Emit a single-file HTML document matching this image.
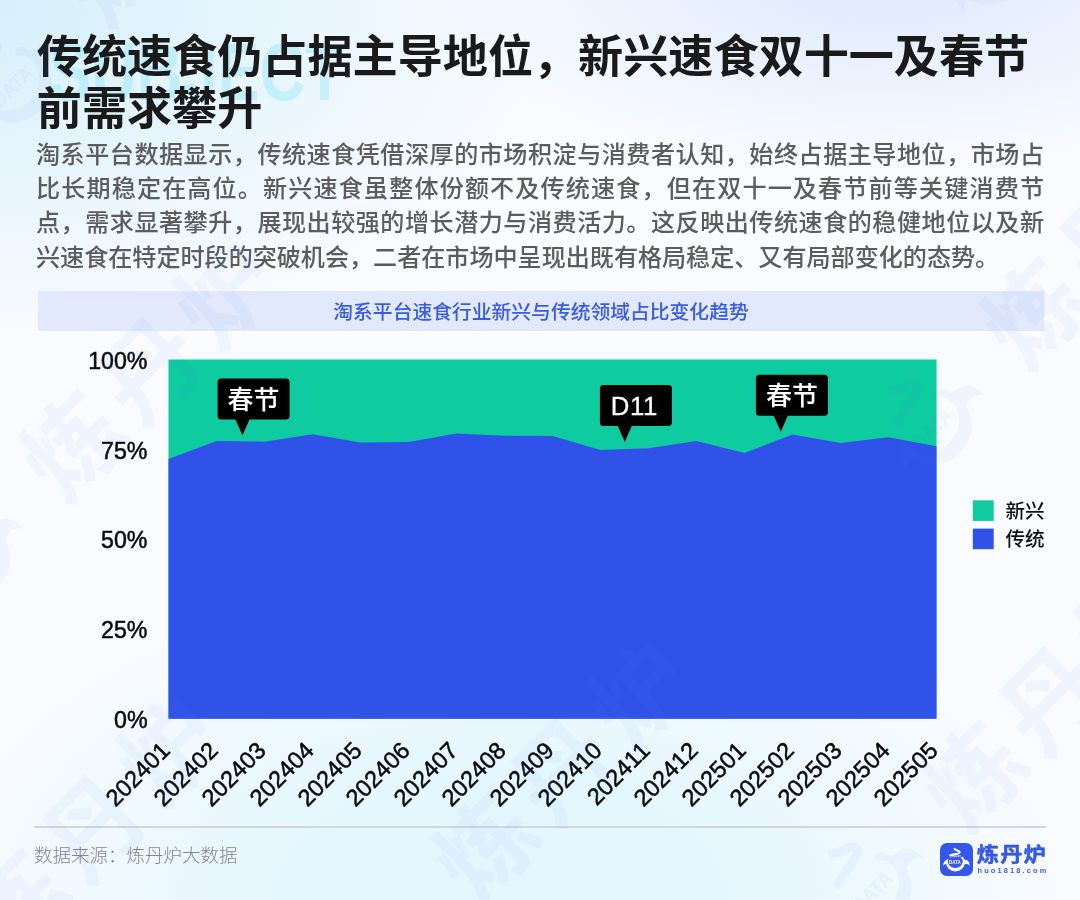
<!DOCTYPE html>
<html lang="zh-CN">
<head>
<meta charset="utf-8">
<title>传统速食仍占据主导地位</title>
<style>
html,body{margin:0;padding:0;}
body{width:1080px;height:900px;position:relative;overflow:hidden;
font-family:"Liberation Sans","Noto Sans CJK SC",sans-serif;
background:#f8fafe;}
.bg{position:absolute;left:0;top:0;width:1080px;height:900px;
background:
radial-gradient(ellipse 560px 330px at 0px 10px, rgba(214,240,251,1), rgba(214,240,251,0) 100%),
radial-gradient(ellipse 460px 190px at 880px -20px, rgba(222,233,253,1), rgba(222,233,253,0) 100%),
radial-gradient(ellipse 580px 330px at 500px 900px, rgba(228,247,254,1) 0%, rgba(228,247,254,1) 35%, rgba(228,247,254,0) 100%),
#f9fbff;}
.subject{position:absolute;left:48.5px;top:27.2px;font-size:81px;line-height:90px;font-weight:bold;letter-spacing:0;color:rgba(150,230,250,.45);font-family:"Liberation Sans",sans-serif;transform:scaleX(0.78);transform-origin:0 0;white-space:nowrap;}
h1{position:absolute;left:36.8px;top:32px;margin:0;width:1040px;white-space:nowrap;font-family:"Liberation Sans","Noto Sans CJK SC",sans-serif;font-weight:700;font-size:45.12px;line-height:51.5px;color:#1a1a1a;letter-spacing:0;}
p.desc{position:absolute;left:36px;top:137.5px;margin:0;width:1008px;font-size:24.08px;line-height:34.4px;color:#5c5c5c;text-align:justify;font-weight:500;font-family:"Liberation Sans","Noto Sans CJK SC",sans-serif;}
.bar{position:absolute;left:38px;top:290.5px;width:1006px;height:40px;background:#e2e9fc;text-align:center;line-height:43.5px;font-size:19.8px;overflow:hidden;color:#3a5be6;font-weight:500;font-family:"Liberation Sans","Noto Sans CJK SC",sans-serif;}
p.desc span{display:block;white-space:nowrap;text-align:justify;text-align-last:justify;}
p.desc span.last{text-align-last:left;}
svg.chart{position:absolute;left:0;top:0;}
svg.chart text{font-family:"Liberation Sans","Noto Sans CJK SC",sans-serif;}
svg.chart text.cj{font-family:"Liberation Sans","Noto Sans CJK SC",sans-serif;}
.foot-line{position:absolute;left:34px;top:826px;width:1012px;height:1.5px;background:#d3d6da;}
.src{position:absolute;left:34px;top:842px;font-size:18.5px;line-height:27px;color:#858585;font-weight:300;font-family:"Liberation Sans","Noto Sans CJK SC",sans-serif;}
.logo-ic{position:absolute;left:940px;top:842.5px;width:33px;height:33px;border-radius:7px;background:#3356ec;}
.logo-t{position:absolute;left:976.8px;top:841.2px;font-size:22.2px;line-height:30px;font-weight:700;letter-spacing:1.2px;-webkit-text-stroke:0.5px #3356ec;transform:scaleY(0.9);transform-origin:0 15.8px;color:#3356ec;font-family:"Liberation Sans","Noto Sans CJK SC",sans-serif;white-space:nowrap;}
.logo-u{position:absolute;left:977.5px;top:866px;font-size:7.4px;line-height:10px;font-weight:700;color:#3f60ee;letter-spacing:2.15px;white-space:nowrap;font-family:"Liberation Sans",sans-serif;}
</style>
</head>
<body>
<div class="bg"></div>
<div class="subject">SUBJECT</div>
<h1>传统速食仍占据主导地位，新兴速食双十一及春节<br>前需求攀升</h1>
<p class="desc"><span>淘系平台数据显示，传统速食凭借深厚的市场积淀与消费者认知，始终占据主导地位，市场占</span><span>比长期稳定在高位。新兴速食虽整体份额不及传统速食，但在双十一及春节前等关键消费节</span><span>点，需求显著攀升，展现出较强的增长潜力与消费活力。这反映出传统速食的稳健地位以及新</span><span class="last">兴速食在特定时段的突破机会，二者在市场中呈现出既有格局稳定、又有局部变化的态势。</span></p>
<div class="bar">淘系平台速食行业新兴与传统领域占比变化趋势</div>
<svg class="chart" width="1080" height="900" viewBox="0 0 1080 900">
<rect x="168.5" y="359.5" width="768.0" height="359.20000000000005" fill="#0ecba0"/>
<path d="M168.5,718.7 L168.5,458.9 L216.5,441.1 L264.5,441.7 L312.5,434.2 L360.5,442.6 L408.5,442.0 L456.5,433.6 L504.5,435.7 L552.5,436.1 L600.5,450.0 L648.5,448.3 L696.5,440.9 L744.5,453.0 L792.5,434.4 L840.5,443.1 L888.5,437.2 L936.5,446.3 L936.5,718.7 Z" fill="#3052e9"/>
<g font-size="23.2" fill="#0a0a0a" stroke="#0a0a0a" stroke-width="0.5">
<text x="147.5" y="368.7" text-anchor="end">100%</text>
<text x="147.5" y="458.5" text-anchor="end">75%</text>
<text x="147.5" y="548.3" text-anchor="end">50%</text>
<text x="147.5" y="638.1" text-anchor="end">25%</text>
<text x="147.5" y="727.9" text-anchor="end">0%</text>
</g>
<g font-size="23.6" fill="#0a0a0a" stroke="#0a0a0a" stroke-width="0.5">
<text x="171.2" y="752.0" text-anchor="end" transform="rotate(-45 171.2 752.0)">202401</text>
<text x="219.2" y="752.0" text-anchor="end" transform="rotate(-45 219.2 752.0)">202402</text>
<text x="267.2" y="752.0" text-anchor="end" transform="rotate(-45 267.2 752.0)">202403</text>
<text x="315.2" y="752.0" text-anchor="end" transform="rotate(-45 315.2 752.0)">202404</text>
<text x="363.2" y="752.0" text-anchor="end" transform="rotate(-45 363.2 752.0)">202405</text>
<text x="411.2" y="752.0" text-anchor="end" transform="rotate(-45 411.2 752.0)">202406</text>
<text x="459.2" y="752.0" text-anchor="end" transform="rotate(-45 459.2 752.0)">202407</text>
<text x="507.2" y="752.0" text-anchor="end" transform="rotate(-45 507.2 752.0)">202408</text>
<text x="555.2" y="752.0" text-anchor="end" transform="rotate(-45 555.2 752.0)">202409</text>
<text x="603.2" y="752.0" text-anchor="end" transform="rotate(-45 603.2 752.0)">202410</text>
<text x="651.2" y="752.0" text-anchor="end" transform="rotate(-45 651.2 752.0)">202411</text>
<text x="699.2" y="752.0" text-anchor="end" transform="rotate(-45 699.2 752.0)">202412</text>
<text x="747.2" y="752.0" text-anchor="end" transform="rotate(-45 747.2 752.0)">202501</text>
<text x="795.2" y="752.0" text-anchor="end" transform="rotate(-45 795.2 752.0)">202502</text>
<text x="843.2" y="752.0" text-anchor="end" transform="rotate(-45 843.2 752.0)">202503</text>
<text x="891.2" y="752.0" text-anchor="end" transform="rotate(-45 891.2 752.0)">202504</text>
<text x="939.2" y="752.0" text-anchor="end" transform="rotate(-45 939.2 752.0)">202505</text>
</g>
<rect x="217.6" y="378.4" width="72" height="41" rx="3.5" fill="#000"/><path d="M235.2,418.9 L249.7,418.9 L242.5,435.4 Z" fill="#000"/><text x="253.6" y="409.0" text-anchor="middle" fill="#fff" font-size="26" font-weight="500" class="cj">春节</text>
<rect x="599.9" y="384.9" width="72" height="41" rx="3.5" fill="#000"/><path d="M617.5,425.4 L632.0,425.4 L624.8,441.9 Z" fill="#000"/><text x="634.3" y="414.5" text-anchor="middle" fill="#fff" font-size="25.8" stroke="#fff" stroke-width="0.3" letter-spacing="0.5" class="lt">D11</text>
<rect x="755.9" y="374.8" width="72" height="41" rx="3.5" fill="#000"/><path d="M773.5,415.3 L788.0,415.3 L780.8,431.8 Z" fill="#000"/><text x="791.9" y="405.40000000000003" text-anchor="middle" fill="#fff" font-size="26" font-weight="500" class="cj">春节</text>

<rect x="972.8" y="500.3" width="20.9" height="20.6" fill="#0ecba0"/>
<rect x="972.8" y="528.6" width="20.9" height="20.6" fill="#3052e9"/>
<g font-size="19.6" fill="#111" font-weight="500" class="cj">
<text class="cj" x="1005.5" y="518">新兴</text>
<text class="cj" x="1005.5" y="546.3">传统</text>
</g>
</svg>
<div class="foot-line"></div>
<div class="src">数据来源：炼丹炉大数据</div>
<div class="logo-ic">
<svg width="33" height="33" viewBox="0 0 33 33">
<clipPath id="cb"><path d="M0,16.6 L9,16.6 L20,14 L33,14 L33,33 L0,33 Z"/></clipPath>
<path clip-path="url(#cb)" fill-rule="evenodd" fill="#fff" d="M6.1,19.9 a9.3,8.5 0 1,0 18.6,0 a9.3,8.5 0 1,0 -18.6,0 Z M7.8,18.3 a7.5,6.6 0 1,0 15,0 a7.5,6.6 0 1,0 -15,0 Z"/>
<path fill="#fff" d="M8.4,16.2 C5.2,16.8 2.9,19.4 3.3,23.2 C4.2,21.2 5.4,20.7 6.8,21.2 C6.6,19.4 7.2,17.6 8.4,16.2 Z"/>
<path fill="#fff" d="M20.7,14.7 C21.4,13.2 23.3,13.5 23.6,15 C23.9,16.3 24.5,16.9 25.8,17 C28.4,17.3 29.9,19.8 29.5,23 C28.7,21.2 27.4,20.6 25.9,21 L24.4,21.4 C24.4,18.8 23,16.4 20.7,14.7 Z"/>
<path d="M14.6,5.9 C15.4,7.6 20.2,7.4 19.6,9.5 C19,11.4 12.6,11.2 10.2,12.4" fill="none" stroke="#fff" stroke-width="2.1" stroke-linecap="round"/>
<path d="M10,12.7 C13,13.5 17,13.1 20.2,12.8" fill="none" stroke="#fff" stroke-width="0.8" stroke-linecap="round"/>
<path d="M8.6,15.3 Q14.5,13 21,13.7" fill="none" stroke="#fff" stroke-opacity=".45" stroke-width="0.5"/>
<text x="14.8" y="21.2" text-anchor="middle" font-family="Liberation Sans, sans-serif" font-weight="bold" font-size="5" textLength="11.8" lengthAdjust="spacingAndGlyphs" fill="#fff">DATA</text>
</svg>
</div>
<div class="logo-t">炼丹炉</div>
<div class="logo-u">huo1818.com</div>
<svg class="wmk" width="1080" height="900" viewBox="0 0 1080 900" style="position:absolute;left:0;top:0;pointer-events:none">
<g opacity="0.055">
<g transform="translate(-32,551) rotate(-45)" fill="#5a7cf0">
<g transform="translate(-66,-70) scale(4.1)">
<path fill-rule="evenodd" clip-path="url(#cb)" d="M6.1,19.9 a9.3,8.5 0 1,0 18.6,0 a9.3,8.5 0 1,0 -18.6,0 Z M7.8,18.3 a7.5,6.6 0 1,0 15,0 a7.5,6.6 0 1,0 -15,0 Z"/>
<path d="M8.4,16.2 C5.2,16.8 2.9,19.4 3.3,23.2 C4.2,21.2 5.4,20.7 6.8,21.2 C6.6,19.4 7.2,17.6 8.4,16.2 Z"/>
<path d="M20.7,14.7 C21.4,13.2 23.3,13.5 23.6,15 C23.9,16.3 24.5,16.9 25.8,17 C28.4,17.3 29.9,19.8 29.5,23 C28.7,21.2 27.4,20.6 25.9,21 L24.4,21.4 C24.4,18.8 23,16.4 20.7,14.7 Z"/>
<path d="M14.6,5.9 C15.4,7.6 20.2,7.4 19.6,9.5 C19,11.4 12.6,11.2 10.2,12.4" fill="none" stroke="#5a7cf0" stroke-width="2.1" stroke-linecap="round"/>
<text x="14.8" y="21.2" text-anchor="middle" font-family="Liberation Sans, sans-serif" font-weight="bold" font-size="5" textLength="11.8" lengthAdjust="spacingAndGlyphs">DATA</text>
</g>
<text x="100" y="36" font-family="Liberation Sans, Noto Sans CJK SC, sans-serif" font-weight="700" font-size="98" letter-spacing="10">炼丹炉</text>
</g>
<g transform="translate(381,952) rotate(-45)" fill="#5a7cf0">
<g transform="translate(-66,-70) scale(4.1)">
<path fill-rule="evenodd" clip-path="url(#cb)" d="M6.1,19.9 a9.3,8.5 0 1,0 18.6,0 a9.3,8.5 0 1,0 -18.6,0 Z M7.8,18.3 a7.5,6.6 0 1,0 15,0 a7.5,6.6 0 1,0 -15,0 Z"/>
<path d="M8.4,16.2 C5.2,16.8 2.9,19.4 3.3,23.2 C4.2,21.2 5.4,20.7 6.8,21.2 C6.6,19.4 7.2,17.6 8.4,16.2 Z"/>
<path d="M20.7,14.7 C21.4,13.2 23.3,13.5 23.6,15 C23.9,16.3 24.5,16.9 25.8,17 C28.4,17.3 29.9,19.8 29.5,23 C28.7,21.2 27.4,20.6 25.9,21 L24.4,21.4 C24.4,18.8 23,16.4 20.7,14.7 Z"/>
<path d="M14.6,5.9 C15.4,7.6 20.2,7.4 19.6,9.5 C19,11.4 12.6,11.2 10.2,12.4" fill="none" stroke="#5a7cf0" stroke-width="2.1" stroke-linecap="round"/>
<text x="14.8" y="21.2" text-anchor="middle" font-family="Liberation Sans, sans-serif" font-weight="bold" font-size="5" textLength="11.8" lengthAdjust="spacingAndGlyphs">DATA</text>
</g>
<text x="100" y="36" font-family="Liberation Sans, Noto Sans CJK SC, sans-serif" font-weight="700" font-size="98" letter-spacing="10">炼丹炉</text>
</g>
<g transform="translate(929,418) rotate(-45)" fill="#5a7cf0">
<g transform="translate(-66,-70) scale(4.1)">
<path fill-rule="evenodd" clip-path="url(#cb)" d="M6.1,19.9 a9.3,8.5 0 1,0 18.6,0 a9.3,8.5 0 1,0 -18.6,0 Z M7.8,18.3 a7.5,6.6 0 1,0 15,0 a7.5,6.6 0 1,0 -15,0 Z"/>
<path d="M8.4,16.2 C5.2,16.8 2.9,19.4 3.3,23.2 C4.2,21.2 5.4,20.7 6.8,21.2 C6.6,19.4 7.2,17.6 8.4,16.2 Z"/>
<path d="M20.7,14.7 C21.4,13.2 23.3,13.5 23.6,15 C23.9,16.3 24.5,16.9 25.8,17 C28.4,17.3 29.9,19.8 29.5,23 C28.7,21.2 27.4,20.6 25.9,21 L24.4,21.4 C24.4,18.8 23,16.4 20.7,14.7 Z"/>
<path d="M14.6,5.9 C15.4,7.6 20.2,7.4 19.6,9.5 C19,11.4 12.6,11.2 10.2,12.4" fill="none" stroke="#5a7cf0" stroke-width="2.1" stroke-linecap="round"/>
<text x="14.8" y="21.2" text-anchor="middle" font-family="Liberation Sans, sans-serif" font-weight="bold" font-size="5" textLength="11.8" lengthAdjust="spacingAndGlyphs">DATA</text>
</g>
<text x="100" y="36" font-family="Liberation Sans, Noto Sans CJK SC, sans-serif" font-weight="700" font-size="98" letter-spacing="10">炼丹炉</text>
</g>
<g transform="translate(869,881) rotate(-45)" fill="#5a7cf0">
<g transform="translate(-66,-70) scale(4.1)">
<path fill-rule="evenodd" clip-path="url(#cb)" d="M6.1,19.9 a9.3,8.5 0 1,0 18.6,0 a9.3,8.5 0 1,0 -18.6,0 Z M7.8,18.3 a7.5,6.6 0 1,0 15,0 a7.5,6.6 0 1,0 -15,0 Z"/>
<path d="M8.4,16.2 C5.2,16.8 2.9,19.4 3.3,23.2 C4.2,21.2 5.4,20.7 6.8,21.2 C6.6,19.4 7.2,17.6 8.4,16.2 Z"/>
<path d="M20.7,14.7 C21.4,13.2 23.3,13.5 23.6,15 C23.9,16.3 24.5,16.9 25.8,17 C28.4,17.3 29.9,19.8 29.5,23 C28.7,21.2 27.4,20.6 25.9,21 L24.4,21.4 C24.4,18.8 23,16.4 20.7,14.7 Z"/>
<path d="M14.6,5.9 C15.4,7.6 20.2,7.4 19.6,9.5 C19,11.4 12.6,11.2 10.2,12.4" fill="none" stroke="#5a7cf0" stroke-width="2.1" stroke-linecap="round"/>
<text x="14.8" y="21.2" text-anchor="middle" font-family="Liberation Sans, sans-serif" font-weight="bold" font-size="5" textLength="11.8" lengthAdjust="spacingAndGlyphs">DATA</text>
</g>
<text x="100" y="36" font-family="Liberation Sans, Noto Sans CJK SC, sans-serif" font-weight="700" font-size="98" letter-spacing="10">炼丹炉</text>
</g>
<g transform="translate(9,76) rotate(-45)" fill="#5a7cf0">
<g transform="translate(-66,-70) scale(4.1)">
<path fill-rule="evenodd" clip-path="url(#cb)" d="M6.1,19.9 a9.3,8.5 0 1,0 18.6,0 a9.3,8.5 0 1,0 -18.6,0 Z M7.8,18.3 a7.5,6.6 0 1,0 15,0 a7.5,6.6 0 1,0 -15,0 Z"/>
<path d="M8.4,16.2 C5.2,16.8 2.9,19.4 3.3,23.2 C4.2,21.2 5.4,20.7 6.8,21.2 C6.6,19.4 7.2,17.6 8.4,16.2 Z"/>
<path d="M20.7,14.7 C21.4,13.2 23.3,13.5 23.6,15 C23.9,16.3 24.5,16.9 25.8,17 C28.4,17.3 29.9,19.8 29.5,23 C28.7,21.2 27.4,20.6 25.9,21 L24.4,21.4 C24.4,18.8 23,16.4 20.7,14.7 Z"/>
<path d="M14.6,5.9 C15.4,7.6 20.2,7.4 19.6,9.5 C19,11.4 12.6,11.2 10.2,12.4" fill="none" stroke="#5a7cf0" stroke-width="2.1" stroke-linecap="round"/>
<text x="14.8" y="21.2" text-anchor="middle" font-family="Liberation Sans, sans-serif" font-weight="bold" font-size="5" textLength="11.8" lengthAdjust="spacingAndGlyphs">DATA</text>
</g>
<text x="100" y="36" font-family="Liberation Sans, Noto Sans CJK SC, sans-serif" font-weight="700" font-size="98" letter-spacing="10">炼丹炉</text>
</g>
<g transform="translate(-89,1009) rotate(-45)" fill="#5a7cf0">
<g transform="translate(-66,-70) scale(4.1)">
<path fill-rule="evenodd" clip-path="url(#cb)" d="M6.1,19.9 a9.3,8.5 0 1,0 18.6,0 a9.3,8.5 0 1,0 -18.6,0 Z M7.8,18.3 a7.5,6.6 0 1,0 15,0 a7.5,6.6 0 1,0 -15,0 Z"/>
<path d="M8.4,16.2 C5.2,16.8 2.9,19.4 3.3,23.2 C4.2,21.2 5.4,20.7 6.8,21.2 C6.6,19.4 7.2,17.6 8.4,16.2 Z"/>
<path d="M20.7,14.7 C21.4,13.2 23.3,13.5 23.6,15 C23.9,16.3 24.5,16.9 25.8,17 C28.4,17.3 29.9,19.8 29.5,23 C28.7,21.2 27.4,20.6 25.9,21 L24.4,21.4 C24.4,18.8 23,16.4 20.7,14.7 Z"/>
<path d="M14.6,5.9 C15.4,7.6 20.2,7.4 19.6,9.5 C19,11.4 12.6,11.2 10.2,12.4" fill="none" stroke="#5a7cf0" stroke-width="2.1" stroke-linecap="round"/>
<text x="14.8" y="21.2" text-anchor="middle" font-family="Liberation Sans, sans-serif" font-weight="bold" font-size="5" textLength="11.8" lengthAdjust="spacingAndGlyphs">DATA</text>
</g>
<text x="100" y="36" font-family="Liberation Sans, Noto Sans CJK SC, sans-serif" font-weight="700" font-size="98" letter-spacing="10">炼丹炉</text>
</g>
<g transform="translate(985,-42) rotate(-45)" fill="#5a7cf0">
<g transform="translate(-66,-70) scale(4.1)">
<path fill-rule="evenodd" clip-path="url(#cb)" d="M6.1,19.9 a9.3,8.5 0 1,0 18.6,0 a9.3,8.5 0 1,0 -18.6,0 Z M7.8,18.3 a7.5,6.6 0 1,0 15,0 a7.5,6.6 0 1,0 -15,0 Z"/>
<path d="M8.4,16.2 C5.2,16.8 2.9,19.4 3.3,23.2 C4.2,21.2 5.4,20.7 6.8,21.2 C6.6,19.4 7.2,17.6 8.4,16.2 Z"/>
<path d="M20.7,14.7 C21.4,13.2 23.3,13.5 23.6,15 C23.9,16.3 24.5,16.9 25.8,17 C28.4,17.3 29.9,19.8 29.5,23 C28.7,21.2 27.4,20.6 25.9,21 L24.4,21.4 C24.4,18.8 23,16.4 20.7,14.7 Z"/>
<path d="M14.6,5.9 C15.4,7.6 20.2,7.4 19.6,9.5 C19,11.4 12.6,11.2 10.2,12.4" fill="none" stroke="#5a7cf0" stroke-width="2.1" stroke-linecap="round"/>
<text x="14.8" y="21.2" text-anchor="middle" font-family="Liberation Sans, sans-serif" font-weight="bold" font-size="5" textLength="11.8" lengthAdjust="spacingAndGlyphs">DATA</text>
</g>
<text x="100" y="36" font-family="Liberation Sans, Noto Sans CJK SC, sans-serif" font-weight="700" font-size="98" letter-spacing="10">炼丹炉</text>
</g>
</g>
</svg>
</body>
</html>
